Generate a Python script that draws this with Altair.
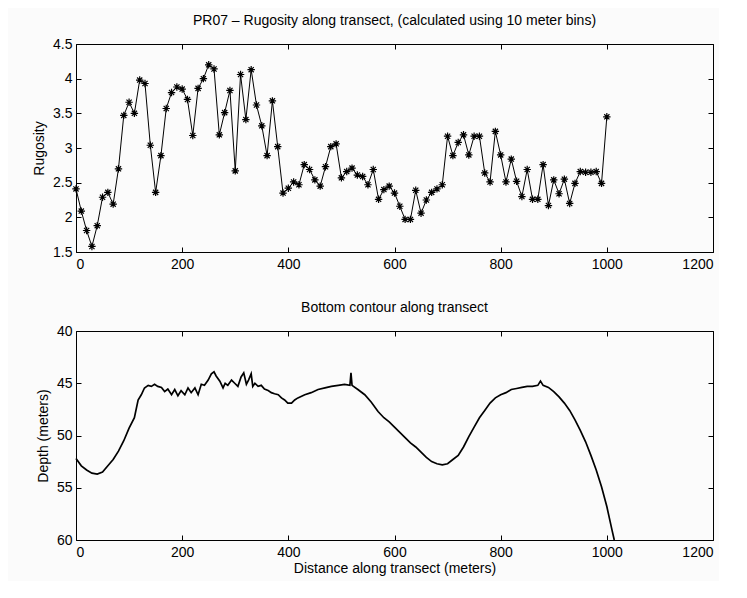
import altair as alt
import pandas as pd

# ---------------- data ----------------
rug_dist = list(range(0, 1001, 10))
rug_vals = [
    2.41, 2.09, 1.81, 1.58, 1.88, 2.29, 2.36, 2.19, 2.70, 3.47,
    3.66, 3.50, 3.98, 3.93, 3.04, 2.36, 2.89, 3.57, 3.80, 3.88,
    3.85, 3.70, 3.18, 3.86, 4.00, 4.20, 4.14, 3.19, 3.51, 3.83,
    2.67, 4.06, 3.41, 4.13, 3.62, 3.32, 2.89, 3.68, 3.02, 2.35,
    2.42, 2.51, 2.47, 2.76, 2.69, 2.54, 2.45, 2.73, 3.02, 3.06,
    2.57, 2.66, 2.71, 2.61, 2.59, 2.47, 2.69, 2.26, 2.40, 2.45,
    2.35, 2.16, 1.97, 1.97, 2.39, 2.06, 2.25, 2.36, 2.41, 2.47,
    3.17, 2.89, 3.08, 3.19, 2.90, 3.17, 3.17, 2.64, 2.51, 3.24,
    2.90, 2.51, 2.84, 2.52, 2.30, 2.69, 2.26, 2.26, 2.76, 2.17,
    2.54, 2.34, 2.55, 2.20, 2.49, 2.66, 2.65, 2.65, 2.66, 2.49,
    3.45,
]

depth_dist = [
    0, 10, 20, 30, 40, 50, 60, 70, 80, 90, 100, 110, 117, 123, 129, 136,
    142, 148, 154, 161, 167, 173, 180, 186, 192, 198, 205, 211, 217, 224,
    230, 236, 242, 249, 255, 260, 264, 271, 277, 281, 286, 293, 299, 305,
    311, 316, 321, 325, 330, 333, 337, 343, 349, 355, 362, 368, 374, 381,
    387, 393, 399, 406, 412, 418, 431, 443, 456, 469, 481, 494, 506, 516,
    518, 520, 531, 544, 556, 569, 580, 590, 600, 610, 620, 630, 640, 650,
    660, 670, 680, 690, 700, 710, 720, 730, 740, 750, 760, 770, 780, 790,
    800, 810, 820, 830, 840, 850, 860, 870, 875, 880, 890, 900, 910, 920,
    930, 940, 950, 960, 970, 980, 990, 1000, 1010, 1014,
]
depth_vals = [
    52.2, 52.9, 53.3, 53.6, 53.7, 53.5, 52.9, 52.3, 51.5, 50.5, 49.3, 48.3, 46.6, 46.1, 45.45, 45.2,
    45.3, 45.1, 45.3, 45.4, 45.8, 45.55, 46.1, 45.6, 46.2, 45.7, 46.1, 45.45, 45.9, 45.45,
    46.1, 45.1, 45.2, 44.7, 44.1, 43.9, 44.3, 44.8, 45.45, 45.0, 45.2, 44.7, 45.0, 45.3,
    44.4, 44.0, 45.1, 44.7, 44.1, 45.3, 45.0, 45.3, 45.2, 45.55, 45.7, 45.9, 46.0, 46.1,
    46.4, 46.6, 46.9, 46.9, 46.6, 46.4, 46.1, 45.9, 45.6, 45.45, 45.3, 45.2, 45.1, 45.2,
    44.0, 45.2, 45.6, 46.1, 46.8, 47.7, 48.3, 48.7, 49.2, 49.7, 50.2, 50.7, 51.1, 51.6,
    52.1, 52.5, 52.7, 52.8, 52.7, 52.3, 51.9, 51.1, 50.1, 49.2, 48.3, 47.6, 46.9, 46.4,
    46.1, 45.9, 45.6, 45.5, 45.4, 45.3, 45.3, 45.2, 44.8, 45.2, 45.4, 45.8, 46.3, 46.9,
    47.6, 48.5, 49.5, 50.6, 51.9, 53.3, 54.9, 56.8, 59.1, 60.0,
]

x_ticks = [0, 200, 400, 600, 800, 1000, 1200]
rug_ticks = [1.5, 2, 2.5, 3, 3.5, 4, 4.5]
depth_ticks = [40, 45, 50, 55, 60]

rug_df = pd.DataFrame({"dist": rug_dist, "rug": rug_vals})
depth_df = pd.DataFrame({"dist": depth_dist, "depth": depth_vals})

FONT = "Liberation Sans"
STAR = "M0,-1L0,1M-1,0L1,0M-0.7,-0.7L0.7,0.7M-0.7,0.7L0.7,-0.7"
W, H = 637, 208


def ax(orient, values, labels=True, title=None, **kw):
    return alt.Axis(
        orient=orient, values=values, labels=labels, title=title,
        offset=-5, tickSize=5, domain=False, grid=False,
        tickColor="black", tickWidth=1, labelColor="black",
        labelFont=FONT, labelFontSize=14, format="~r",
        titleFont=FONT, titleFontSize=14, titleFontWeight="normal",
        titleColor="black", **kw,
    )


xs = alt.Scale(domain=[0, 1200], nice=False, zero=False)

# ---------- top panel ----------
ys_top = alt.Scale(domain=[1.5, 4.5], nice=False, zero=False)
top_base = alt.Chart(rug_df)
top_line = top_base.mark_line(color="black", strokeWidth=1).encode(
    x=alt.X("dist:Q", scale=xs, axis=ax("bottom", x_ticks, labelPadding=5)),
    y=alt.Y("rug:Q", scale=ys_top,
            axis=ax("left", rug_ticks, title="Rugosity", labelPadding=4, titlePadding=6)),
)
top_pts = top_base.mark_point(shape=STAR, filled=False, size=55, color="black",
                              strokeWidth=1.2, opacity=1).encode(
    x=alt.X("dist:Q", scale=xs, axis=None),
    y=alt.Y("rug:Q", scale=ys_top, axis=None),
)
top_frame = top_base.mark_point(opacity=0).encode(
    x=alt.X("dist:Q", scale=xs, axis=ax("top", x_ticks, labels=False)),
    y=alt.Y("rug:Q", scale=ys_top, axis=ax("right", rug_ticks, labels=False)),
)
top = alt.layer(top_line, top_pts, top_frame).resolve_axis(
    x="independent", y="independent"
).properties(
    width=W, height=H,
    title=alt.TitleParams("PR07 \u2013 Rugosity along transect, (calculated using 10 meter bins)",
                          font=FONT, fontSize=14, fontWeight="normal", color="black", offset=9),
)

# ---------- bottom panel ----------
ys_bot = alt.Scale(domain=[40, 60], nice=False, zero=False, reverse=True)
bot_base = alt.Chart(depth_df)
bot_line = bot_base.mark_line(color="black", strokeWidth=1.7).encode(
    x=alt.X("dist:Q", scale=xs,
            axis=ax("bottom", x_ticks, title="Distance along transect (meters)",
                    labelPadding=5, titlePadding=2)),
    y=alt.Y("depth:Q", scale=ys_bot,
            axis=ax("left", depth_ticks, title="Depth (meters)", labelPadding=4, titlePadding=6)),
)
bot_frame = bot_base.mark_point(opacity=0).encode(
    x=alt.X("dist:Q", scale=xs, axis=ax("top", x_ticks, labels=False)),
    y=alt.Y("depth:Q", scale=ys_bot, axis=ax("right", depth_ticks, labels=False)),
)
bot = alt.layer(bot_line, bot_frame).resolve_axis(
    x="independent", y="independent"
).properties(
    width=W, height=209,
    title=alt.TitleParams("Bottom contour along transect",
                          font=FONT, fontSize=14, fontWeight="normal", color="black", offset=9),
)

chart = alt.vconcat(top, bot, spacing=28).properties(
    padding={"left": 24, "top": 5, "right": 5, "bottom": 5},
    background="#fbfbfb",
).configure_view(stroke="black", strokeWidth=1)

chart.save("out.html", embed_options={"renderer": "svg", "actions": False})
